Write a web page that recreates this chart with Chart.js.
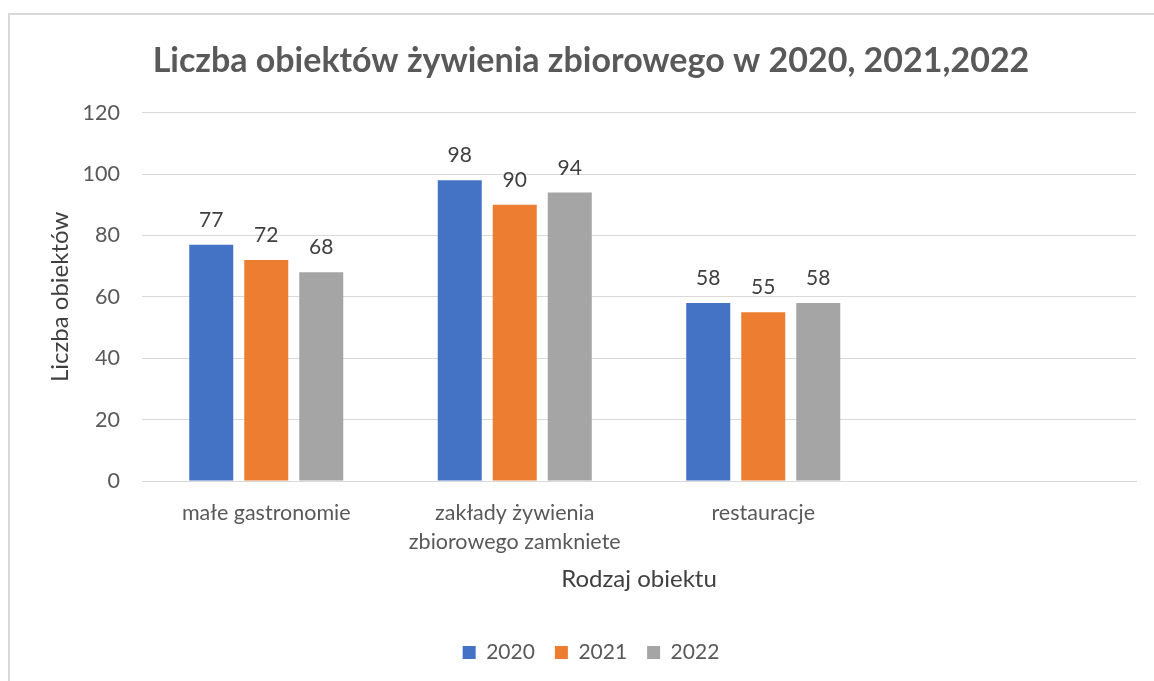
<!DOCTYPE html>
<html><head><meta charset="utf-8">
<script src="https://cdn.jsdelivr.net/npm/chart.js@4/dist/chart.umd.min.js"></script>
<style>
html,body{margin:0;padding:0;background:#fff;overflow:hidden;width:1154px;height:681px}
#frame{position:absolute;left:8px;top:13px;width:1170px;height:700px;border:2px solid #d9d9d9;box-sizing:border-box}
#wrap{position:absolute;left:0;top:0;width:1176px;height:681px}
</style></head><body>
<div id="frame"></div>
<div id="wrap"><canvas id="c" width="1176" height="681"></canvas></div>
<script>
const categories = ["małe gastronomie", ["zakłady żywienia", "zbiorowego zamkniete"], "restauracje", ""];
const seriesNames = ["2020", "2021", "2022"];
const values2020 = [77, 98, 58, null];
const values2021 = [72, 90, 55, null];
const values2022 = [68, 94, 58, null];
const yTicks = [0, 20, 40, 60, 80, 100, 120];
const colors = ["#4472C4", "#ED7D31", "#A5A5A5"];
const FONT = "Lato, 'Liberation Sans', sans-serif";

const dataLabels = {
  id: 'dataLabels',
  afterDatasetsDraw(chart) {
    const ctx = chart.ctx;
    ctx.save();
    ctx.font = "21px " + FONT;
    ctx.fillStyle = "#404040";
    ctx.textAlign = "center";
    ctx.textBaseline = "alphabetic";
    chart.data.datasets.forEach((ds, i) => {
      const meta = chart.getDatasetMeta(i);
      meta.data.forEach((el, j) => {
        const v = ds.data[j];
        if (v === null || v === undefined) return;
        ctx.fillText(String(v), el.x, el.y - 18);
      });
    });
    ctx.restore();
  }
};

new Chart(document.getElementById('c'), {
  type: 'bar',
  data: {
    labels: categories,
    datasets: [
      { label: seriesNames[0], data: values2020, backgroundColor: colors[0] },
      { label: seriesNames[1], data: values2021, backgroundColor: colors[1] },
      { label: seriesNames[2], data: values2022, backgroundColor: colors[2] }
    ]
  },
  options: {
    responsive: false,
    animation: false,
    devicePixelRatio: 1,
    layout: { padding: { left: 46, right: 40, top: 0, bottom: 8 } },
    categoryPercentage: 0.664,
    barPercentage: 0.8,
    plugins: {
      title: {
        display: true,
        text: "Liczba obiektów żywienia zbiorowego w 2020, 2021,2022",
        color: "#595959",
        font: { family: FONT, size: 34, weight: 'bold' },
        padding: { top: 41, bottom: 31 }
      },
      legend: {
        position: 'bottom',
        labels: {
          color: "#595959",
          font: { family: FONT, size: 21 },
          boxWidth: 13, boxHeight: 13,
          padding: 20
        }
      },
      tooltip: { enabled: false }
    },
    scales: {
      x: {
        afterFit(scale) { scale.height = 141; },
        grid: { display: false, drawTicks: false },
        border: { display: true, color: "#d9d9d9", width: 1 },
        ticks: { color: "#595959", font: { family: FONT, size: 21.5, lineHeight: 1.35 }, padding: 17.5, maxRotation: 0, autoSkip: false },
        title: { display: true, text: "Rodzaj obiektu", color: "#404040", font: { family: FONT, size: 24 }, padding: { top: 0, bottom: 28 } }
      },
      y: {
        min: 0, max: 120,
        afterBuildTicks(scale) { scale.ticks = yTicks.map(v => ({ value: v })); },
        afterFit(scale) { scale.width = 96; },
        grid: { color: "#d9d9d9", lineWidth: 1, drawTicks: false },
        border: { display: false },
        ticks: { color: "#595959", font: { family: FONT, size: 21.5 }, padding: 22 },
        title: { display: true, text: "Liczba obiektów", color: "#404040", font: { family: FONT, size: 24 }, padding: { top: 0, bottom: 0 } }
      }
    }
  },
  plugins: [dataLabels]
});
</script>
</body></html>
